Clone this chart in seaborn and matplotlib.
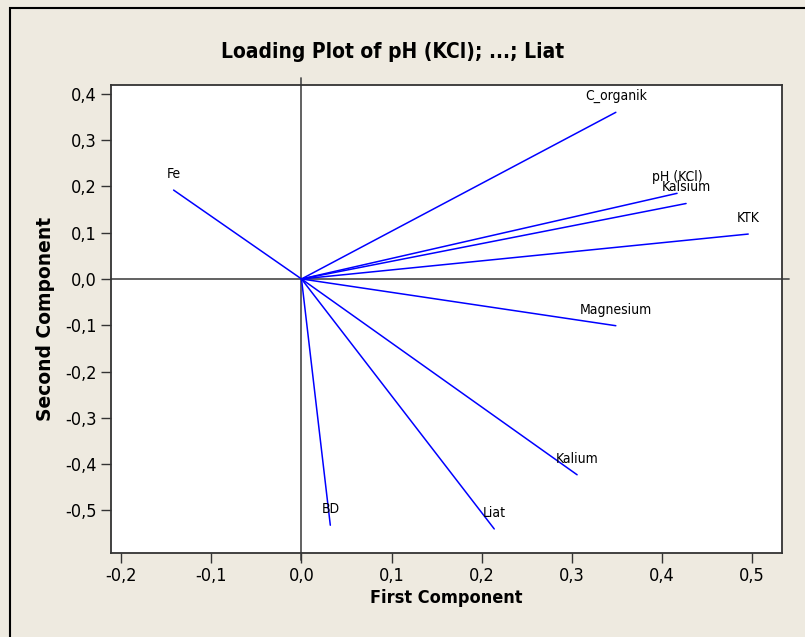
import matplotlib
matplotlib.use("Agg")
import matplotlib.pyplot as plt
import seaborn as sns
import pandas as pd
from matplotlib.patches import Rectangle
from matplotlib.ticker import FuncFormatter

variables = ["Fe", "C_organik", "pH (KCl)", "Kalsium", "KTK", "Magnesium", "Kalium", "Liat", "BD"]
pc1 = [-0.142, 0.349, 0.417, 0.427, 0.496, 0.349, 0.306, 0.214, 0.032]
pc2 = [0.192, 0.360, 0.185, 0.163, 0.097, -0.101, -0.423, -0.540, -0.532]
xticks = [-0.2, -0.1, 0.0, 0.1, 0.2, 0.3, 0.4, 0.5]
yticks = [0.4, 0.3, 0.2, 0.1, 0.0, -0.1, -0.2, -0.3, -0.4, -0.5]

rows = []
for v, x, y in zip(variables, pc1, pc2):
    rows.append({"var": v, "x": 0.0, "y": 0.0})
    rows.append({"var": v, "x": x, "y": y})
df = pd.DataFrame(rows)

sns.set_style("white")
plt.rcParams["font.family"] = ["DejaVu Sans"]
plt.rcParams["text.color"] = "black"
plt.rcParams["axes.labelcolor"] = "black"
plt.rcParams["xtick.color"] = "black"
plt.rcParams["ytick.color"] = "black"

bg = "#EEEAE0"
fig = plt.figure(figsize=(8.05, 6.37), dpi=100, facecolor=bg)
ax = fig.add_axes([111/805, 1-553/637, (782-111)/805, (553-85)/637])
ax.set_facecolor("white")

sns.lineplot(data=df, x="x", y="y", units="var", estimator=None, sort=False,
             color="#0000FF", linewidth=1.1, ax=ax, legend=False)

for v, x, y in zip(variables, pc1, pc2):
    ax.annotate(v, (x, y), xytext=(0, 6.5), textcoords="offset points",
                ha="center", va="bottom", fontsize=10, color="black",
                fontstretch="condensed")

ax.set_xlim(-0.2115, 0.5335)
ax.set_ylim(-0.592, 0.419)
ax.axhline(0, color="#555555", linewidth=1.3, zorder=0.5, clip_on=False, xmin=0.0, xmax=1.01)
ax.axvline(0, color="#555555", linewidth=1.3, zorder=0.5, clip_on=False, ymin=-0.015, ymax=1.015)

ax.set_xticks(xticks)
ax.set_yticks(yticks)
fmt = FuncFormatter(lambda v, p: f"{v:.1f}".replace(".", ",").replace("-0,0", "0,0"))
ax.xaxis.set_major_formatter(fmt)
ax.yaxis.set_major_formatter(fmt)
ax.tick_params(axis="both", direction="out", length=7, width=1, color="#333333",
               labelsize=13, pad=3, bottom=True, left=True)
for lab in ax.get_xticklabels() + ax.get_yticklabels():
    lab.set_fontstretch("condensed")
for s in ax.spines.values():
    s.set_color("#333333")
    s.set_linewidth(1.3)

ax.set_xlabel("First Component", fontsize=13, fontweight="bold",
              fontstretch="condensed", labelpad=3)
ax.set_ylabel("Second Component", fontsize=13.5, fontweight="bold", labelpad=8)
fig.text(393/805, 1-52/637, "Loading Plot of pH (KCl); ...; Liat", ha="center", va="center",
         fontsize=15, fontweight="bold", fontstretch="condensed")

fig.patches.append(Rectangle((10/805, -0.01), 1.0, 1 - 8/637 + 0.01, transform=fig.transFigure,
                             fill=False, edgecolor="black", linewidth=1.5))

fig.savefig("out.png", dpi=100, facecolor=bg)
